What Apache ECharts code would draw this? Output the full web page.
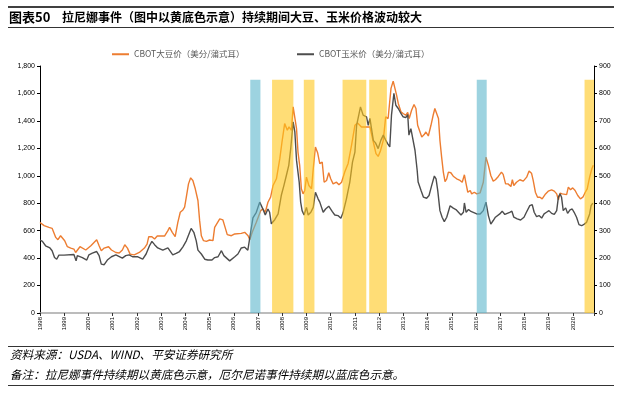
<!DOCTYPE html>
<html>
<head>
<meta charset="utf-8">
<script src="https://cdn.jsdelivr.net/npm/echarts@6/dist/echarts.min.js"></script>
<style>
html,body{margin:0;padding:0;background:#fff;}
#chart{width:620px;height:395px;}
</style>
</head>
<body>
<div id="chart"></div>
<script>
// ---- Data (decimal year, value) ----
const soyT = [1998.00,1998.17,1998.37,1998.50,1998.65,1998.74,1998.85,1999.02,1999.13,1999.27,1999.40,1999.47,1999.54,1999.65,1999.89,2000.10,2000.23,2000.34,2000.44,2000.53,2000.65,2000.83,2000.95,2001.13,2001.27,2001.40,2001.50,2001.61,2001.72,2001.89,2002.10,2002.31,2002.42,2002.49,2002.62,2002.73,2002.84,2003.14,2003.28,2003.35,2003.46,2003.58,2003.69,2003.79,2003.90,2003.97,2004.04,2004.13,2004.22,2004.31,2004.41,2004.52,2004.59,2004.66,2004.75,2004.87,2005.00,2005.14,2005.21,2005.28,2005.42,2005.55,2005.62,2005.73,2005.90,2006.04,2006.31,2006.45,2006.59,2006.66,2006.76,2006.93,2007.11,2007.20,2007.30,2007.41,2007.52,2007.62,2007.76,2007.90,2007.99,2008.10,2008.21,2008.28,2008.38,2008.45,2008.52,2008.59,2008.65,2008.72,2008.79,2008.86,2008.93,2009.00,2009.10,2009.21,2009.28,2009.37,2009.46,2009.55,2009.65,2009.73,2009.83,2009.92,2010.00,2010.10,2010.24,2010.34,2010.45,2010.58,2010.72,2010.86,2011.00,2011.11,2011.27,2011.48,2011.62,2011.76,2011.87,2011.96,2012.06,2012.17,2012.27,2012.37,2012.49,2012.58,2012.65,2012.72,2012.79,2012.90,2012.99,2013.10,2013.18,2013.24,2013.34,2013.44,2013.52,2013.59,2013.66,2013.76,2013.86,2013.93,2014.03,2014.14,2014.23,2014.30,2014.38,2014.45,2014.51,2014.58,2014.65,2014.72,2014.79,2014.86,2014.96,2015.06,2015.20,2015.34,2015.43,2015.52,2015.59,2015.66,2015.76,2015.82,2015.93,2016.03,2016.17,2016.30,2016.41,2016.51,2016.61,2016.71,2016.80,2016.92,2017.05,2017.12,2017.22,2017.32,2017.44,2017.50,2017.56,2017.67,2017.81,2017.95,2018.09,2018.19,2018.29,2018.36,2018.45,2018.54,2018.64,2018.73,2018.87,2018.98,2019.12,2019.23,2019.33,2019.40,2019.47,2019.56,2019.64,2019.74,2019.81,2019.90,2019.99,2020.09,2020.20,2020.31,2020.41,2020.51,2020.59,2020.69,2020.78,2020.84];
const soyV = [660,637,624,617,551,534,563,527,483,473,466,441,454,483,459,490,514,534,490,454,473,483,459,441,437,459,497,473,429,424,441,473,502,556,556,539,561,561,600,624,588,556,661,734,751,771,844,941,985,966,905,820,673,563,527,522,532,527,624,612,686,678,637,571,563,576,580,588,563,534,588,661,746,759,734,807,844,929,978,1125,1246,1380,1332,1356,1332,1502,1502,1344,1173,1076,905,868,893,990,929,905,1051,1210,1168,1088,1100,953,966,1022,978,941,953,934,953,1027,1090,1222,1368,1385,1356,1356,1356,1246,1161,1141,1185,1258,1429,1417,1637,1690,1685,1588,1527,1466,1454,1441,1461,1417,1478,1519,1490,1368,1356,1283,1300,1319,1290,1368,1441,1490,1478,1417,1258,1136,1027,958,978,1027,1022,997,978,966,953,1007,941,880,893,868,880,868,876,953,1136,1076,1002,961,971,995,1027,1010,941,941,922,971,929,953,971,961,990,1034,1019,966,880,844,844,832,868,888,898,888,868,825,873,868,880,863,917,898,912,893,856,832,844,880,905,990,1051,1076];

const cornT = [1998.00,1998.10,1998.23,1998.41,1998.50,1998.60,1998.69,1998.78,1998.99,1999.40,1999.49,1999.54,1999.75,1999.93,2000.02,2000.16,2000.34,2000.44,2000.53,2000.65,2000.78,2000.95,2001.13,2001.40,2001.54,2001.68,2001.82,2002.02,2002.24,2002.38,2002.52,2002.62,2002.73,2002.86,2003.07,2003.28,2003.48,2003.62,2003.76,2003.90,2004.04,2004.15,2004.24,2004.35,2004.45,2004.52,2004.66,2004.80,2004.93,2005.10,2005.21,2005.35,2005.49,2005.59,2005.83,2006.04,2006.17,2006.31,2006.45,2006.58,2006.66,2006.79,2006.93,2007.07,2007.15,2007.23,2007.30,2007.41,2007.48,2007.55,2007.69,2007.83,2007.96,2008.07,2008.17,2008.27,2008.35,2008.45,2008.52,2008.59,2008.65,2008.70,2008.76,2008.82,2008.90,2009.00,2009.07,2009.18,2009.28,2009.37,2009.48,2009.55,2009.69,2009.79,2009.92,2010.06,2010.17,2010.30,2010.42,2010.51,2010.65,2010.79,2010.90,2011.00,2011.07,2011.23,2011.34,2011.48,2011.55,2011.62,2011.76,2011.85,2011.96,2012.07,2012.17,2012.27,2012.35,2012.44,2012.51,2012.61,2012.69,2012.79,2012.90,2012.99,2013.10,2013.18,2013.23,2013.31,2013.38,2013.48,2013.57,2013.61,2013.73,2013.83,2013.96,2014.06,2014.17,2014.28,2014.35,2014.42,2014.51,2014.60,2014.69,2014.79,2014.93,2015.06,2015.17,2015.38,2015.48,2015.52,2015.59,2015.69,2015.79,2015.87,2016.03,2016.17,2016.30,2016.41,2016.51,2016.61,2016.71,2016.80,2016.98,2017.08,2017.19,2017.29,2017.39,2017.48,2017.56,2017.70,2017.84,2017.98,2018.08,2018.22,2018.32,2018.40,2018.50,2018.60,2018.71,2018.81,2018.91,2019.01,2019.12,2019.23,2019.33,2019.40,2019.47,2019.53,2019.60,2019.70,2019.78,2019.88,2019.97,2020.05,2020.15,2020.25,2020.36,2020.47,2020.56,2020.69,2020.75,2020.82];
const cornV = [266,261,245,237,227,202,196,211,211,213,190,209,202,193,212,218,224,209,178,176,193,205,212,200,209,212,205,205,196,215,245,261,249,237,229,237,212,217,224,241,263,288,308,294,263,229,215,196,193,193,202,205,227,209,190,205,215,237,240,229,225,347,367,404,398,373,357,379,367,325,340,361,428,465,501,538,599,696,660,556,556,477,404,373,357,385,357,367,385,440,416,404,367,379,389,370,357,355,345,365,416,477,550,586,684,751,721,715,684,709,629,620,599,629,648,630,617,605,721,800,757,745,727,715,712,723,648,672,666,593,520,477,446,422,418,428,465,499,489,446,373,349,333,349,391,382,377,357,367,401,367,377,370,367,361,361,373,404,355,324,337,349,361,371,359,363,367,371,349,343,339,349,367,391,395,367,351,355,346,361,367,373,363,359,373,422,434,422,373,383,363,376,379,367,349,322,318,324,330,361,391,400];

// Event periods (decimal years)
const laninaPeriods = [[2007.58,2008.46],[2008.89,2009.33],[2010.49,2011.47],[2011.59,2012.32],[2020.48,2020.87]];
const elninoPeriods = [[2006.68,2007.10],[2016.03,2016.44]];
const bandTop = 1700;

const leftTicks = {min:0, max:1800, interval:200};
const rightTicks = {min:0, max:900, interval:100};
const xRange = {min:1998, max:2020.87, interval:1};

const soyName = 'CBOT大豆价（美分/蒲式耳）';
const cornName = 'CBOT玉米价（美分/蒲式耳）';
const titleNo = '图表50';
const titleText = '拉尼娜事件（图中以黄底色示意）持续期间大豆、玉米价格波动较大';
const sourceText = '资料来源：USDA、WIND、平安证券研究所';
const noteText = '备注：拉尼娜事件持续期以黄底色示意，厄尔尼诺事件持续期以蓝底色示意。';

const chart = echarts.init(document.getElementById('chart'), null, {renderer:'canvas'});
const numFont = '"Liberation Sans", Arial, sans-serif';
const cjkFont = '"Noto Sans CJK SC", sans-serif';

const bandData = [];
laninaPeriods.forEach(p => bandData.push([{xAxis:p[0], yAxis:0, itemStyle:{color:'#FFC61B', opacity:0.6}}, {xAxis:p[1], yAxis:bandTop}]));
elninoPeriods.forEach(p => bandData.push([{xAxis:p[0], yAxis:0, itemStyle:{color:'#5CB6CB', opacity:0.6}}, {xAxis:p[1], yAxis:bandTop}]));

const legendText = {fontSize:8.5, color:'#595959', fontFamily:cjkFont};
const option = {
  animation: false,
  backgroundColor: '#fff',
  grid: {left: 40, right: 26, top: 66, bottom: 82},
  legend: [
    {data:[soyName], left:112, top:50, padding:0, itemWidth:17, itemHeight:2, icon:'rect', textStyle:legendText},
    {data:[cornName], left:297, top:50, padding:0, itemWidth:17, itemHeight:2, icon:'rect', textStyle:legendText}
  ],
  xAxis: {
    type:'value', min:xRange.min, max:xRange.max, interval:xRange.interval,
    axisLine:{show:true, lineStyle:{color:'#A6A6A6', width:1.5}},
    axisTick:{show:true, length:3, lineStyle:{color:'#333', width:1}},
    splitLine:{show:false},
    axisLabel:{rotate:90, fontSize:6, color:'#000', fontFamily:numFont, margin:4,
      formatter: v => (Math.abs(v - Math.round(v)) < 1e-6 ? String(Math.round(v)) : '')}
  },
  yAxis: [
    {type:'value', min:leftTicks.min, max:leftTicks.max, interval:leftTicks.interval,
     axisLine:{show:true, lineStyle:{color:'#000', width:1}},
     axisTick:{show:true, length:3, lineStyle:{color:'#000'}},
     splitLine:{show:false},
     axisLabel:{fontSize:7, color:'#000', fontFamily:numFont, margin:5,
       formatter: v => v.toLocaleString('en-US')}},
    {type:'value', min:rightTicks.min, max:rightTicks.max, interval:rightTicks.interval,
     position:'right',
     axisLine:{show:true, lineStyle:{color:'#000', width:1}},
     axisTick:{show:true, length:3, lineStyle:{color:'#000'}},
     splitLine:{show:false},
     axisLabel:{fontSize:7, color:'#000', fontFamily:numFont, margin:5}}
  ],
  series: [
    {name:soyName, type:'line', yAxisIndex:0, showSymbol:false, symbol:'none',
     data: soyT.map((t,i)=>[t, soyV[i]]), lineStyle:{color:'#ED7D31', width:1.4}, itemStyle:{color:'#ED7D31'}, z:2},
    {name:cornName, type:'line', yAxisIndex:1, showSymbol:false, symbol:'none',
     data: cornT.map((t,i)=>[t, cornV[i]]), lineStyle:{color:'#4D4D4D', width:1.4}, itemStyle:{color:'#4D4D4D'}, z:2},
    {name:'bands', type:'line', yAxisIndex:0, data:[], z:10, silent:true,
     markArea:{silent:true, z:10, data:bandData}}
  ],
  graphic: [
    {type:'line', shape:{x1:8, y1:7, x2:614, y2:7}, style:{stroke:'#000', lineWidth:1.5}},
    {type:'text', left:9, top:11, style:{text:titleNo, font:'bold 13px "Noto Sans CJK SC", sans-serif', fill:'#000'}},
    {type:'text', left:62, top:11, style:{text:titleText, font:'bold 12px "Noto Sans CJK SC", sans-serif', fill:'#000'}},
    {type:'line', shape:{x1:8, y1:27.5, x2:614, y2:27.5}, style:{stroke:'#000', lineWidth:0.8}},
    {type:'line', shape:{x1:8, y1:346.5, x2:614, y2:346.5}, style:{stroke:'#000', lineWidth:0.8}},
    {type:'text', left:10, top:349, style:{text:sourceText, font:'italic 11.6px "Noto Sans CJK SC", sans-serif', fill:'#000'}},
    {type:'text', left:10, top:369, style:{text:noteText, font:'italic 11.6px "Noto Sans CJK SC", sans-serif', fill:'#000'}},
    {type:'line', shape:{x1:8, y1:385.5, x2:614, y2:385.5}, style:{stroke:'#000', lineWidth:0.8}}
  ]
};
chart.setOption(option);
</script>
</body>
</html>
